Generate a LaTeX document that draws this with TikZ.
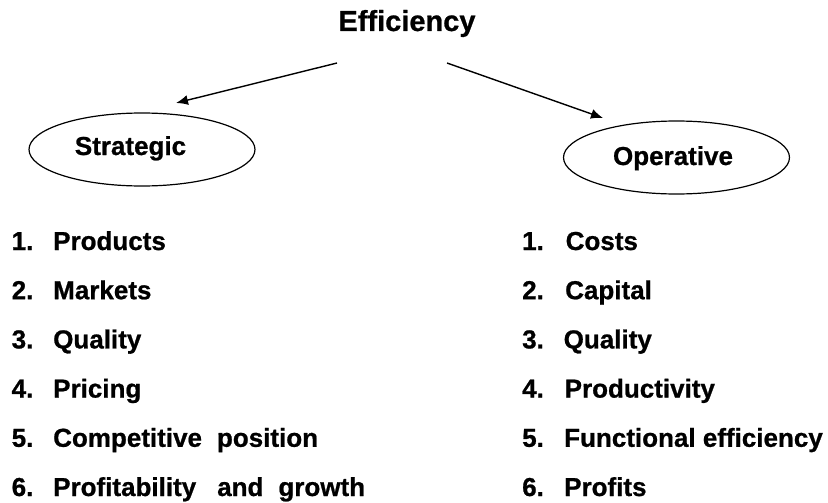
\documentclass[tikz,border=0pt]{standalone}
\usepackage{fontspec}
\setmainfont{Liberation Sans}[BoldFeatures={FakeBold=0.8}]
\usetikzlibrary{shapes.geometric,arrows.meta}
\tikzset{
  lbl/.style={font=\fontsize{26}{30}\selectfont\bfseries, inner sep=0pt, anchor=base west},
  titletext/.style={font=\fontsize{29}{34}\selectfont\bfseries, inner sep=0pt, anchor=base},
  oval/.style={ellipse, draw, line width=1.2pt, minimum width=226pt, minimum height=73pt, inner sep=0pt},
  arr/.style={line width=1.4pt, -{Latex[length=12pt,width=10pt]}}
}
\begin{document}
\begin{tikzpicture}[x=1pt,y=-1pt]
\useasboundingbox (0,0) rectangle (828,503);
\node[titletext] (eff) at (407,31) {Efficiency};
\node[oval] (strat) at (142,149.5) {};
\node[oval] (oper) at (676.5,157.5) {};
\node[lbl, anchor=base] (stratlbl) at (130.5,155) {Strategic};
\node[lbl, anchor=base] (operlbl) at (673,165) {Operative};
\coordinate (ls) at (337,63);
\coordinate (lt) at (176,103);
\coordinate (rs) at (447,63);
\coordinate (rt) at (603,118);
\draw[arr] (ls) -- (lt);
\draw[arr] (rs) -- (rt);
% left list
\node[lbl] (ln1) at (11.5,250) {1.};
\node[lbl] (lt1) at (53,250) {Products};
\node[lbl] (ln2) at (11.5,299.2) {2.};
\node[lbl] (lt2) at (53,299.2) {Markets};
\node[lbl] (ln3) at (11.5,348.4) {3.};
\node[lbl] (lt3) at (53,348.4) {Quality};
\node[lbl] (ln4) at (11.5,397.6) {4.};
\node[lbl] (lt4) at (53,397.6) {Pricing};
\node[lbl] (ln5) at (11.5,446.8) {5.};
\node[lbl] (lt5) at (53,446.8) {Competitive\hspace{15pt}position};
\node[lbl] (ln6) at (11.5,496) {6.};
\node[lbl] (lt6) at (53,496) {Profitability\hspace{21pt}and\hspace{15pt}growth};
% right list
\node[lbl] (rn1) at (522,250) {1.};
\node[lbl] (rt1) at (565.5,250) {Costs};
\node[lbl] (rn2) at (522,299.2) {2.};
\node[lbl] (rt2) at (565,299.2) {Capital};
\node[lbl] (rn3) at (522,348.4) {3.};
\node[lbl] (rt3) at (563.5,348.4) {Quality};
\node[lbl] (rn4) at (522,397.6) {4.};
\node[lbl] (rt4) at (564.5,397.6) {Productivity};
\node[lbl] (rn5) at (522,446.8) {5.};
\node[lbl] (rt5) at (564,446.8) {Functional efficiency};
\node[lbl] (rn6) at (522,496) {6.};
\node[lbl] (rt6) at (564,496) {Profits};
\end{tikzpicture}
\end{document}
